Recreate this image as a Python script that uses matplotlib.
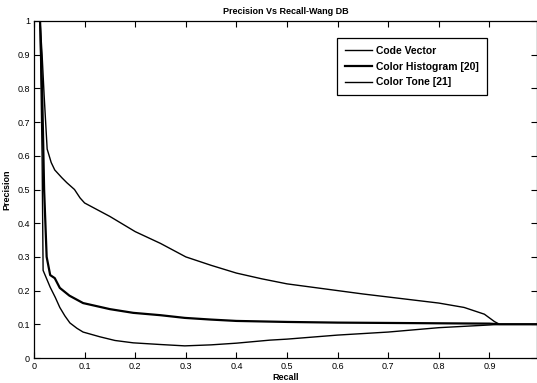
import matplotlib
matplotlib.use("Agg")
import matplotlib.pyplot as plt

# Precision / recall curves
code_recall = [0.012, 0.016, 0.020, 0.026, 0.034, 0.041, 0.055, 0.065, 0.080, 0.091, 0.10, 0.15,
               0.20, 0.25, 0.30, 0.35, 0.40, 0.45, 0.50, 0.55, 0.60, 0.65, 0.70, 0.75, 0.80,
               0.85, 0.87, 0.89, 0.90, 0.91, 0.92, 0.95, 1.0]
code_prec = [1.0, 0.90, 0.78, 0.62, 0.58, 0.558, 0.535, 0.52, 0.50, 0.475, 0.46, 0.42,
             0.375, 0.34, 0.30, 0.275, 0.252, 0.235, 0.22, 0.21, 0.20, 0.19, 0.181, 0.172, 0.163,
             0.150, 0.140, 0.130, 0.119, 0.108, 0.100, 0.100, 0.100]

hist_recall = [0.012, 0.016, 0.020, 0.025, 0.032, 0.041, 0.051, 0.07, 0.097, 0.15, 0.196, 0.25,
               0.298, 0.35, 0.40, 0.50, 0.60, 0.70, 0.80, 0.90, 0.92, 1.0]
hist_prec = [1.0, 0.80, 0.50, 0.30, 0.246, 0.237, 0.208, 0.185, 0.163, 0.145, 0.134, 0.127,
             0.119, 0.114, 0.110, 0.107, 0.105, 0.104, 0.103, 0.102, 0.100, 0.100]

tone_recall = [0.012, 0.016, 0.018, 0.025, 0.032, 0.042, 0.051, 0.061, 0.071, 0.085, 0.097, 0.13,
               0.16, 0.196, 0.25, 0.298, 0.35, 0.40, 0.466, 0.50, 0.60, 0.70, 0.80, 0.90, 0.92, 1.0]
tone_prec = [1.0, 0.60, 0.26, 0.235, 0.21, 0.18, 0.15, 0.125, 0.104, 0.088, 0.077, 0.063,
             0.052, 0.045, 0.040, 0.036, 0.039, 0.044, 0.053, 0.056, 0.068, 0.077, 0.090, 0.098, 0.100, 0.100]

series_labels = ["Code Vector", "Color Histogram [20]", "Color Tone [21]"]
x_ticks = [0, 0.1, 0.2, 0.3, 0.4, 0.5, 0.6, 0.7, 0.8, 0.9]
y_ticks = [0, 0.1, 0.2, 0.3, 0.4, 0.5, 0.6, 0.7, 0.8, 0.9, 1.0]

plt.rcParams["font.family"] = ["Liberation Sans", "DejaVu Sans"]

fig = plt.figure(figsize=(5.37, 3.83), dpi=100)
ax = fig.add_axes([34 / 537, 25 / 383, 503 / 537, 337 / 383])

ax.plot(code_recall, code_prec, color="black", linewidth=1.0, label=series_labels[0])
ax.plot(hist_recall, hist_prec, color="black", linewidth=1.6, label=series_labels[1])
ax.plot(tone_recall, tone_prec, color="black", linewidth=1.0, label=series_labels[2])

ax.set_xlim(0, 0.994)
ax.set_ylim(0, 1)
ax.set_xticks(x_ticks)
ax.set_xticklabels(["0" if t == 0 else f"{t:g}" for t in x_ticks], fontsize=6.5)
ax.set_yticks(y_ticks)
ax.set_yticklabels([f"{t:g}" for t in y_ticks], fontsize=6.5)
ax.tick_params(direction="in", top=True, right=True, length=4, width=0.8, pad=3)
for s in ax.spines.values():
    s.set_linewidth(0.9)

ax.set_title("Precision Vs Recall-Wang DB", fontsize=6.5, fontweight="bold", pad=5)
ax.set_xlabel("Recall", fontsize=6.5, fontweight="bold", labelpad=1)
ax.set_ylabel("Precision", fontsize=6.5, fontweight="bold", labelpad=4)

leg = ax.legend(loc="upper left", bbox_to_anchor=(303 / 503, 1 - 17 / 337), borderaxespad=0,
                prop={"size": 7.5, "weight": "bold"},
                frameon=True, fancybox=False, framealpha=1, edgecolor="black",
                handlelength=2.6, handletextpad=0.4, borderpad=0.75, labelspacing=0.55)
leg.get_frame().set_linewidth(0.9)

fig.savefig("out.png", dpi=100)
